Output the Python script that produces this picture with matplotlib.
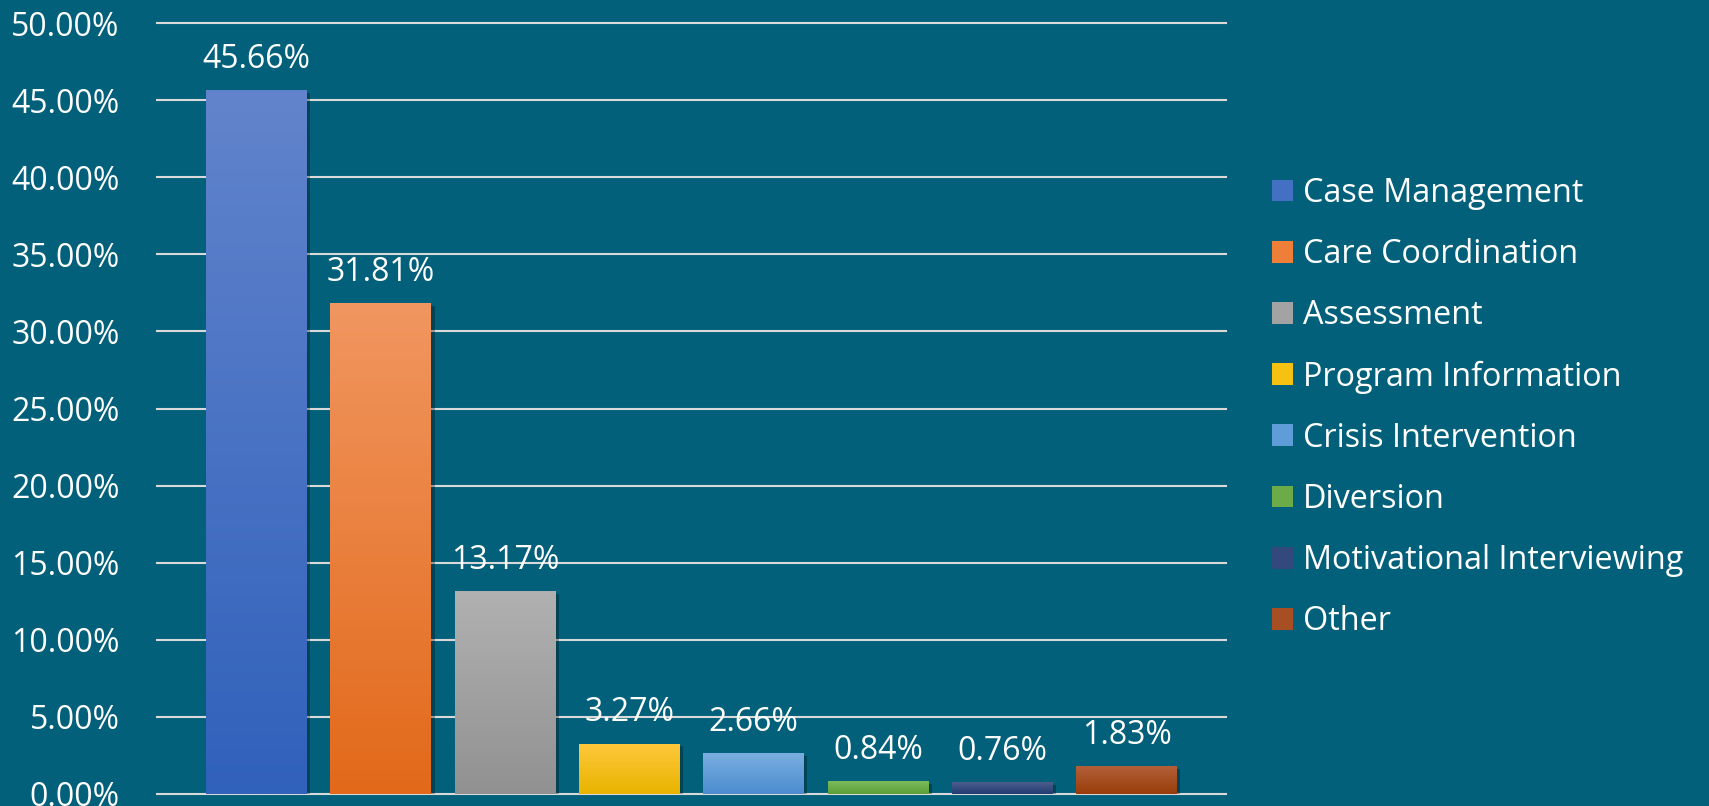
import matplotlib
matplotlib.use('Agg')
import matplotlib.pyplot as plt
import matplotlib.patheffects as pe
from matplotlib.colors import LinearSegmentedColormap
from matplotlib.patches import Patch
from matplotlib.ticker import PercentFormatter
import numpy as np

# service type shares (percent)
categories = ['Case Management', 'Care Coordination', 'Assessment', 'Program Information',
              'Crisis Intervention', 'Diversion', 'Motivational Interviewing', 'Other']
shares = [45.66, 31.81, 13.17, 3.27, 2.66, 0.84, 0.76, 1.83]
y_ticks = [0, 5, 10, 15, 20, 25, 30, 35, 40, 45, 50]

# gradient colours, top -> bottom of each bar
top_colors = ['#6284CC', '#F19660', '#B1B1B1', '#FFC83C', '#7BAFE0', '#7CBB5B', '#4C5E8C', '#B4613B']
bottom_colors = ['#3061BB', '#E2691A', '#919191', '#E8B400', '#4C8CCF', '#5E9E38', '#213B72', '#983D0A']
legend_colors = ['#4470C4', '#EE7E38', '#A3A3A3', '#F6C212', '#5F9DD8', '#6CAC48', '#33497E', '#A74F22']
bg = '#03607A'

plt.rcParams['font.family'] = ['Open Sans', 'DejaVu Sans']

W, H = 1709, 806
fig = plt.figure(figsize=(W / 100, H / 100), dpi=100, facecolor=bg)
ax = fig.add_axes([157 / W, 12 / H, (1226 - 157) / W, (794 - 23) / H])
ax.set_facecolor(bg)
for s in ax.spines.values():
    s.set_visible(False)

x = np.arange(len(categories))
bars = ax.bar(x, shares, width=0.81, color=bottom_colors, zorder=2,
              path_effects=[pe.SimplePatchShadow(offset=(2.5, -2), shadow_rgbFace='black', alpha=0.3),
                            pe.Normal()])

grad = np.linspace(0, 1, 256).reshape(-1, 1)
for rect, c1, c2 in zip(bars, top_colors, bottom_colors):
    cmap = LinearSegmentedColormap.from_list('g', [c1, c2])
    x0, w, h = rect.get_x(), rect.get_width(), rect.get_height()
    im = ax.imshow(grad, cmap=cmap, extent=(x0, x0 + w, 0, h), origin='upper',
                   aspect='auto', zorder=3)
    im.set_clip_path(rect)

for xi, v in zip(x, shares):
    ax.annotate(f'{v:.2f}%', (xi, v), xytext=(0, 16), textcoords='offset points',
                ha='center', va='baseline', color='white', fontsize=23, zorder=4)

ax.set_xlim(-0.8, 7.8)
ax.set_ylim(0, 50)
ax.set_yticks(y_ticks)
ax.yaxis.set_major_formatter(PercentFormatter(decimals=2))
ax.set_xticks([])
ax.tick_params(axis='y', length=0, pad=27, labelsize=23, labelcolor='white')
ax.set_axisbelow(True)
ax.grid(axis='y', color='#D9D9D9', linewidth=1.5)
for gl in ax.get_ygridlines():
    gl.set_clip_on(False)

handles = [Patch(facecolor=c) for c in legend_colors]
fig.legend(handles, categories, loc='center left', bbox_to_anchor=(1272 / W, 1 - 407.5 / H),
           frameon=False, fontsize=23.3, labelcolor='white', handlelength=0.66, handleheight=0.66,
           handletextpad=0.3, labelspacing=0.87, borderpad=0, borderaxespad=0)

fig.savefig('out.png', dpi=100, facecolor=bg)
